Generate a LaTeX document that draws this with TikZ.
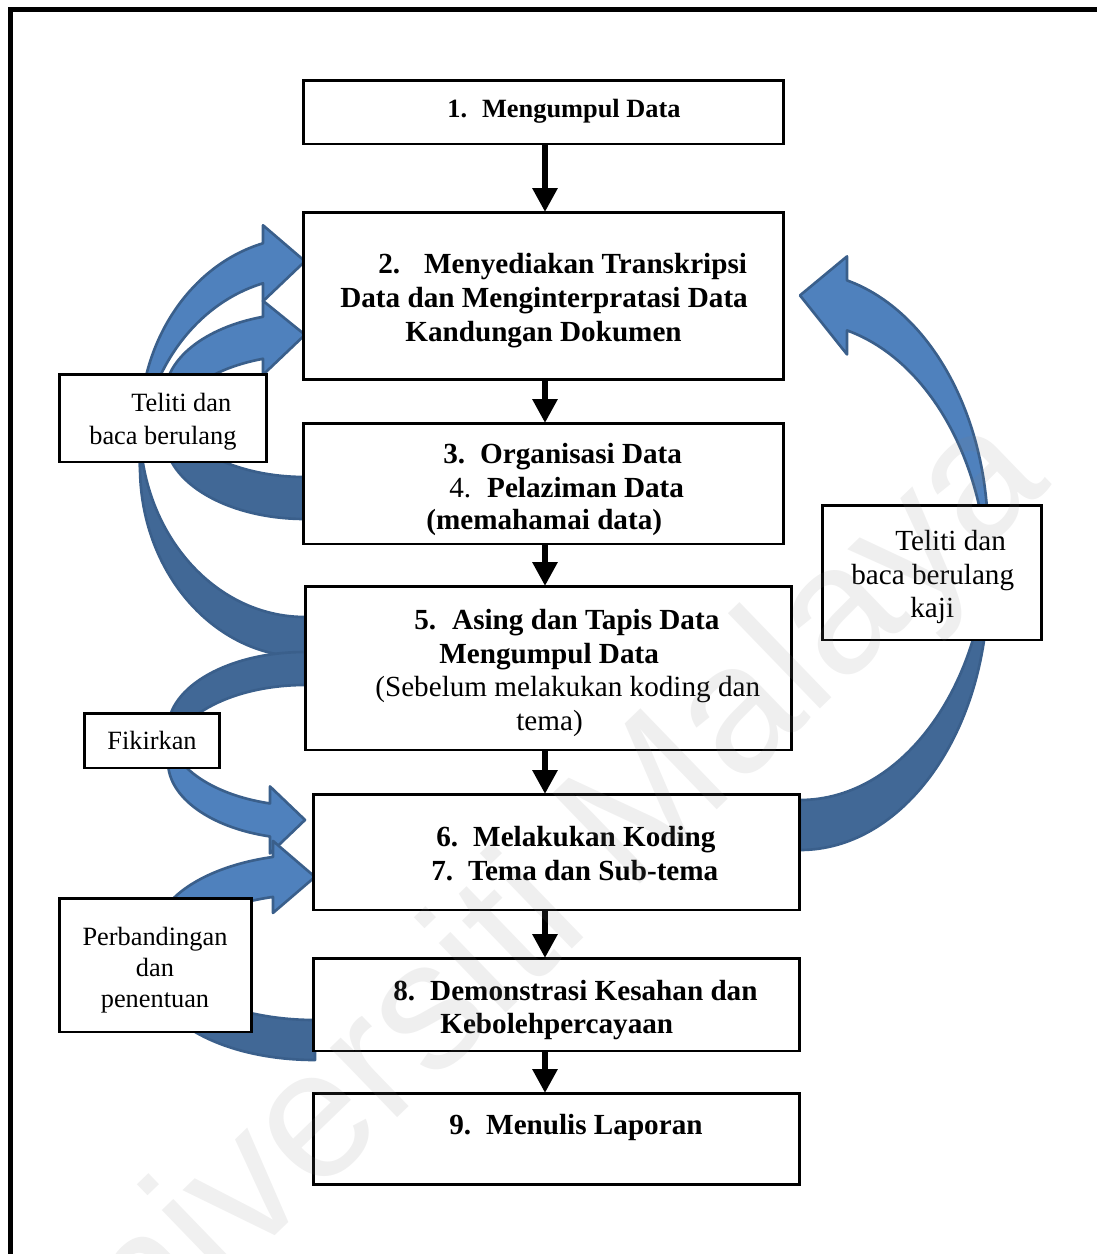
\documentclass[tikz,border=0pt]{standalone}
\usepackage{fontspec}
\setmainfont{Liberation Serif}
\newfontfamily\wmfont{Liberation Sans}
\usetikzlibrary{arrows.meta}

\definecolor{bandlight}{HTML}{4F81BD}
\definecolor{banddark}{HTML}{416896}
\definecolor{bandline}{HTML}{3A5F8B}

\tikzset{
  stepbox/.style={draw=black, line width=1.7pt, fill=white, inner sep=0pt, outer sep=0pt},
  notebox/.style={draw=black, line width=1.7pt, fill=white, inner sep=0pt, outer sep=0pt},
  flow/.style={line width=3.4pt, -{Triangle[length=0.48cm,width=0.48cm]}},
  boldline/.style={anchor=base west, inner sep=0pt, font=\fontsize{16.6}{19}\selectfont\bfseries},
  smallbold/.style={anchor=base west, inner sep=0pt, font=\fontsize{15}{17.6}\selectfont\bfseries},
  plainline/.style={anchor=base west, inner sep=0pt, font=\fontsize{16.6}{19}\selectfont},
  noteline/.style={anchor=base west, inner sep=0pt, font=\fontsize{15}{17.6}\selectfont},
  notecentre/.style={anchor=base, inner sep=0pt, font=\fontsize{15}{17.6}\selectfont},
  bandback/.style={fill=banddark, draw=bandline, line width=1.5pt, line join=round},
  bandfront/.style={fill=bandlight, draw=bandline, line width=1.5pt, line join=round},
}

% Curved block arrow built from two equal ellipses shifted by the band thickness.
% #1 scope options (placement / mirroring), #2 x radius, #3 y radius,
% #4 band thickness, #5 head length, #6 head overhang, #7 tip shift
\newcommand{\curvedband}[7]{%
  \begin{scope}[#1]
    \pgfmathsetmacro{\cbangle}{180+acos(#5/#2)}
    \path[bandback] (-#2,0) arc[start angle=180, end angle=90, x radius=#2, y radius=#3]
      -- ++(0,#4) arc[start angle=90, end angle=180, x radius=#2, y radius=#3] -- cycle;
    \path[bandfront] (-#2,0) arc[start angle=180, end angle=\cbangle, x radius=#2, y radius=#3]
      -- ++(0,-#6) -- ++(#5,{#6+#4/2+(#7)}) -- ++(-#5,{#4/2+#6-(#7)}) -- ++(0,-#6)
      arc[start angle=\cbangle, end angle=180, x radius=#2, y radius=#3] -- cycle;
  \end{scope}}

\begin{document}
\begin{tikzpicture}[x=0.02cm, y=-0.02cm]
\useasboundingbox (0,0) rectangle (1097,1254);
\clip (0,0) rectangle (1097,1254);

% outer frame
\draw[line width=0.1cm] (10.5,1300) -- (10.5,9.5) -- (1150,9.5);

% blue curved arrows
\curvedband{shift={(305,427)}}{165}{190}{40}{42}{18}{-2}
\curvedband{shift={(305,395)}}{140}{82}{42}{42}{16}{-3}
\curvedband{shift={(305,762)}, y={(0,0.02cm)}}{137}{77}{33}{35}{17}{0}
\curvedband{shift={(315,937)}}{160}{83}{40}{42}{16}{0}
\curvedband{shift={(800,536)}, x={(-0.02cm,0)}}{188}{264}{50}{47}{24}{-10}

% process boxes
\node[stepbox, minimum width=9.62cm, minimum height=1.28cm] (b1) at (543.5,112) {};
\node[stepbox, minimum width=9.62cm, minimum height=3.36cm] (b2) at (543.5,296) {};
\node[stepbox, minimum width=9.62cm, minimum height=2.42cm] (b3) at (543.5,483.5) {};
\node[stepbox, minimum width=9.74cm, minimum height=3.28cm] (b5) at (548.5,668) {};
\node[stepbox, minimum width=9.74cm, minimum height=2.32cm] (b6) at (556.5,852) {};
\node[stepbox, minimum width=9.74cm, minimum height=1.86cm] (b8) at (556.5,1004.5) {};
\node[stepbox, minimum width=9.74cm, minimum height=1.82cm] (b9) at (556.5,1138.5) {};

% note boxes
\node[notebox, minimum width=4.16cm, minimum height=1.76cm] (n1) at (163,418) {};
\node[notebox, minimum width=4.4cm, minimum height=2.7cm] (n2) at (932,572.5) {};
\node[notebox, minimum width=2.72cm, minimum height=1.1cm] (n3) at (152,740.5) {};
\node[notebox, minimum width=3.86cm, minimum height=2.68cm] (n4) at (155.5,965) {};

% flow connectors
\coordinate (axis) at (545,0);
\draw[flow] (b1.south -| axis) -- (b2.north -| axis);
\draw[flow] (b2.south -| axis) -- (b3.north -| axis);
\draw[flow] (b3.south -| axis) -- (b5.north -| axis);
\draw[flow] (b5.south -| axis) -- (b6.north -| axis);
\draw[flow] (b6.south -| axis) -- (b8.north -| axis);
\draw[flow] (b8.south -| axis) -- (b9.north -| axis);

% box texts
\node[smallbold] (t1) at (447,117) {1.\hspace{0.3cm}Mengumpul Data};
\node[boldline] (t2a) at (378,273) {2.\hspace{0.48cm}Menyediakan Transkripsi};
\node[boldline] (t2b) at (340,307) {Data dan Menginterpratasi Data};
\node[boldline] (t2c) at (405,341) {Kandungan Dokumen};
\node[boldline] (t3a) at (443,463) {3.\hspace{0.3cm}Organisasi Data};
\node[boldline] (t3b) at (449,497) {{\mdseries 4.}\hspace{0.32cm}Pelaziman Data};
\node[boldline] (t3c) at (426,529) {(memahamai data)};
\node[boldline] (t5a) at (414,629) {5.\hspace{0.32cm}Asing dan Tapis Data};
\node[boldline] (t5b) at (439,663) {Mengumpul Data};
\node[plainline] (t5c) at (375,696) {(Sebelum melakukan koding dan};
\node[plainline] (t5d) at (516,730) {tema)};
\node[boldline] (t6a) at (436,846) {6.\hspace{0.3cm}Melakukan Koding};
\node[boldline] (t6b) at (431,880) {7.\hspace{0.3cm}Tema dan Sub-tema};
\node[boldline] (t8a) at (393,1000) {8.\hspace{0.3cm}Demonstrasi Kesahan dan};
\node[boldline] (t8b) at (440,1033) {Kebolehpercayaan};
\node[boldline] (t9) at (449,1134) {9.\hspace{0.3cm}Menulis Laporan};

% note texts
\node[noteline] (m1a) at (131,411) {Teliti dan};
\node[noteline] (m1b) at (89,444) {baca berulang};
\node[plainline] (m2a) at (895,550) {Teliti dan};
\node[plainline] (m2b) at (851,584) {baca berulang};
\node[plainline] (m2c) at (910,617) {kaji};
\node[noteline] (m3) at (107,749) {Fikirkan};
\node[notecentre] (m4a) at (155,945) {Perbandingan};
\node[notecentre] (m4b) at (155,976) {dan};
\node[notecentre] (m4c) at (155,1007) {penentuan};

% faint watermark
\node[rotate=44, text=black!50, opacity=0.12, inner sep=0pt,
      font=\wmfont\fontsize{104}{104}\selectfont] (wm) at (520,934) {Universiti Malaya};
\end{tikzpicture}
\end{document}
